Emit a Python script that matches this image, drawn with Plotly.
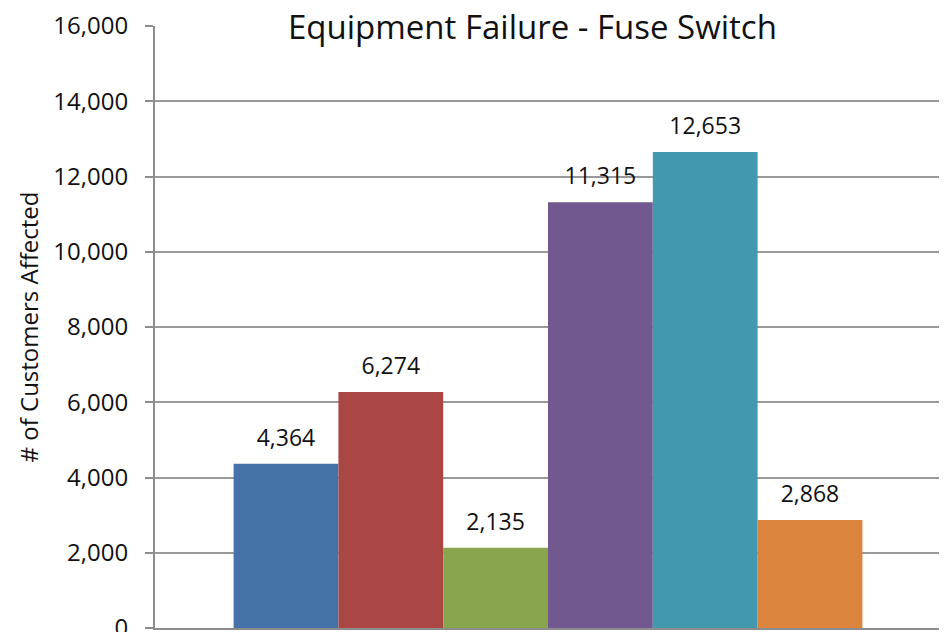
import plotly.graph_objects as go

# one category, six series (Excel style clustered column)
category = ["Fuse Switch"]
series_names = ["Series 1", "Series 2", "Series 3", "Series 4", "Series 5", "Series 6"]
values = [4364, 6274, 2135, 11315, 12653, 2868]
colors = ["#4572A7", "#AA4643", "#89A54E", "#71588F", "#4198AF", "#DB843D"]
y_ticks = [0, 2000, 4000, 6000, 8000, 10000, 12000, 14000, 16000]

FONT = "Open Sans"
TXT = "#111111"

fig = go.Figure()

for i, (name, val, col) in enumerate(zip(series_names, values, colors)):
    fig.add_trace(
        go.Bar(
            x=category,
            y=[val],
            name=name,
            offsetgroup=str(i),
            marker=dict(color=col, line=dict(width=0)),
        )
    )
    # value label above each bar (invisible marker pushes the text up a bit)
    fig.add_trace(
        go.Scatter(
            x=category,
            y=[val],
            name=name,
            offsetgroup=str(i),
            mode="markers+text",
            marker=dict(size=18, color="rgba(0,0,0,0)"),
            text=[f"{val:,}"],
            textposition="top center",
            textfont=dict(family=FONT, size=23, color=TXT),
            hoverinfo="skip",
            cliponaxis=False,
        )
    )

fig.update_layout(
    width=939,
    height=624,
    barmode="group",
    scattermode="group",
    bargap=0.2,
    bargroupgap=0,
    scattergap=0.2,
    showlegend=False,
    plot_bgcolor="white",
    paper_bgcolor="white",
    margin=dict(l=147, r=6, t=18, b=4),
    font=dict(family=FONT, color=TXT),
    xaxis=dict(
        showticklabels=False,
        showline=True,
        linecolor="#8c8c8c",
        linewidth=2,
        ticks="",
        automargin=False,
    ),
    yaxis=dict(
        range=[0, 16000],
        tickvals=y_ticks,
        tickformat=",",
        automargin=False,
        showgrid=True,
        gridcolor="#999999",
        gridwidth=1.5,
        showline=True,
        linecolor="#8c8c8c",
        linewidth=2,
        ticks="outside",
        ticklen=8,
        tickcolor="#8c8c8c",
        tickwidth=1.5,
        ticklabelstandoff=12,
        ticklabeloverflow="allow",
        tickfont=dict(family=FONT, size=24, color=TXT),
        title=dict(text="# of Customers Affected", font=dict(family=FONT, size=24, color=TXT), standoff=8),
        zeroline=False,
    ),
    annotations=[
        dict(
            text="Equipment Failure - Fuse Switch",
            xref="paper", yref="y",
            x=0.48, y=16000,
            showarrow=False,
            bgcolor="white",
            borderpad=4,
            font=dict(family=FONT, size=33, color=TXT),
        )
    ],
)

fig.write_html("out.html")
